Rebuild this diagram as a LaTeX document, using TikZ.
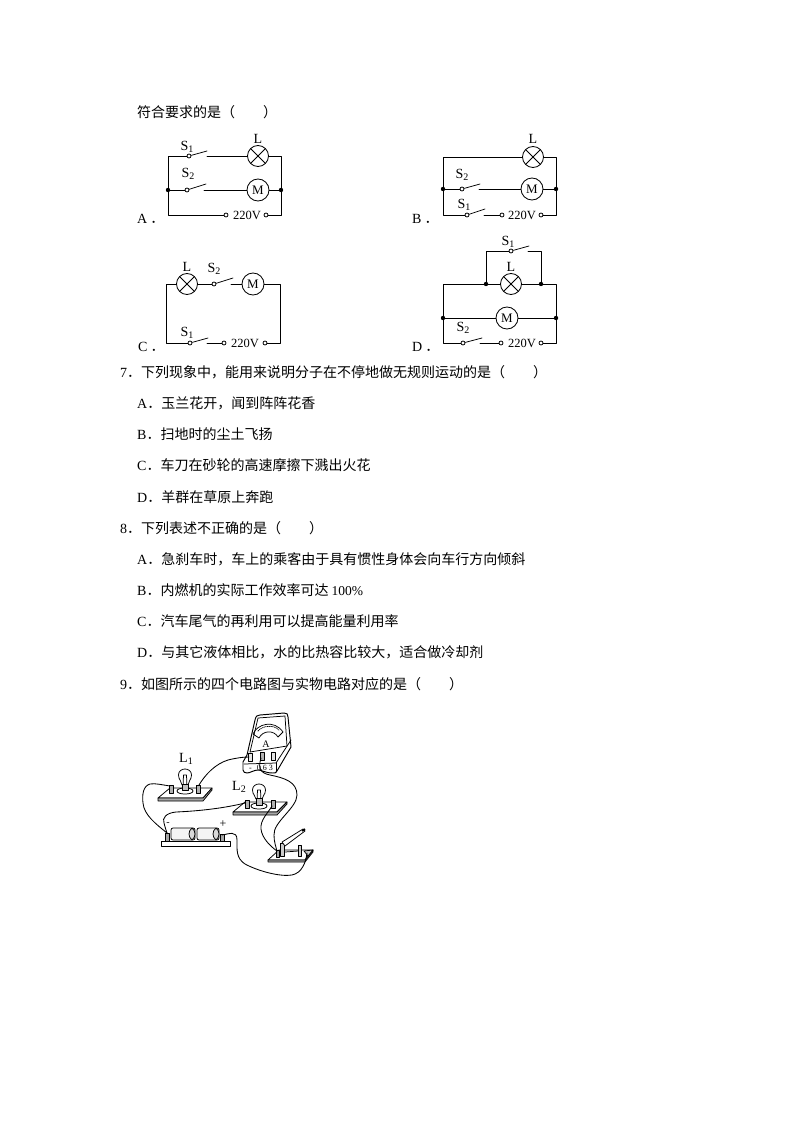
\documentclass[tikz,border=0pt]{standalone}
\usepackage{fontspec}
\setmainfont{Liberation Serif}
\newfontfamily\cjk{Noto Sans CJK SC}
\usetikzlibrary{calc}
\tikzset{
  wire/.style={line width=0.85pt,line cap=round,line join=round},
  thinw/.style={line width=0.75pt,line cap=round,line join=round},
  lamp/.style={circle,draw,line width=0.85pt,minimum size=21pt,inner sep=0pt,fill=white,
    path picture={\draw[line width=0.85pt] (path picture bounding box.north west)--(path picture bounding box.south east)
      (path picture bounding box.north east)--(path picture bounding box.south west);}},
  motor/.style={circle,draw,line width=0.85pt,minimum size=22pt,inner sep=0pt,fill=white,font=\fontsize{13}{13}\selectfont},
  term/.style={circle,draw,line width=0.75pt,minimum size=4pt,inner sep=0pt,fill=white},
  junc/.style={circle,fill=black,minimum size=4.4pt,inner sep=0pt},
  lab/.style={inner sep=0pt,font=\fontsize{14}{14}\selectfont},
  vlab/.style={inner sep=0pt,font=\fontsize{12.5}{12.5}\selectfont},
  txt/.style={anchor=west,inner sep=0pt,font=\fontsize{14}{14}\selectfont\cjk},
  opt/.style={anchor=west,inner sep=0pt,font=\fontsize{14}{14}\selectfont},
  solid part/.style={fill=white,draw,line width=0.75pt,line join=round},
}
\newcommand{\Sb}[2]{#1\raisebox{-0.3ex}{\fontsize{10}{10}\selectfont #2}}
\begin{document}
\begin{tikzpicture}[x=1pt,y=-1pt]
\fill[white] (0,0) rectangle (794,1123);
\useasboundingbox (0,0) rectangle (794,1123);

% text
\node[txt] (t0) at (137,112) {符合要求的是（　　）};
\node[txt] (t7) at (120,372) {{\rmfamily 7}．下列现象中，能用来说明分子在不停地做无规则运动的是（　　）};
\node[txt] (t7a) at (137,403) {{\rmfamily A}．玉兰花开，闻到阵阵花香};
\node[txt] (t7b) at (137,434) {{\rmfamily B}．扫地时的尘土飞扬};
\node[txt] (t7c) at (137,465) {{\rmfamily C}．车刀在砂轮的高速摩擦下溅出火花};
\node[txt] (t7d) at (137,497) {{\rmfamily D}．羊群在草原上奔跑};
\node[txt] (t8) at (120,528) {{\rmfamily 8}．下列表述不正确的是（　　）};
\node[txt] (t8a) at (137,559) {{\rmfamily A}．急刹车时，车上的乘客由于具有惯性身体会向车行方向倾斜};
\node[txt] (t8b) at (137,590) {{\rmfamily B}．内燃机的实际工作效率可达 {\rmfamily\fontsize{13.5}{13.5}\selectfont 100\%}};
\node[txt] (t8c) at (137,621) {{\rmfamily C}．汽车尾气的再利用可以提高能量利用率};
\node[txt] (t8d) at (137,652) {{\rmfamily D}．与其它液体相比，水的比热容比较大，适合做冷却剂};
\node[txt] (t9) at (120,684) {{\rmfamily 9}．如图所示的四个电路图与实物电路对应的是（　　）};

% ---------- A
\coordinate (atl) at (168,156); \coordinate (atr) at (281,156);
\coordinate (abl) at (168,215); \coordinate (abr) at (281,215);
\node[junc] (aj1) at (168,190) {}; \node[junc] (aj2) at (281,190) {};
\node[lamp] (al) at (258,156) {}; \node[motor] (am) at (258,190) {M};
\node[term] (as1) at (189,156) {}; \coordinate (as1e) at (207,151); \coordinate (as1r) at (207,156);
\node[term] (as2) at (187,190) {}; \coordinate (as2e) at (206,184); \coordinate (as2r) at (204,190);
\node[term] (at1) at (226,215) {}; \node[term] (at2) at (266,215) {};
\draw[wire] (as1)--(atl)--(abl)--(at1) (at2)--(abr)--(atr)--(al) (al)--(as1r)
  (aj1)--(as2) (as2r)--(am) (am)--(aj2);
\draw[thinw] (as1)--(as1e) (as2)--(as2e);
\node[lab] (alL) at (258,139) {L};
\node[lab] (alS1) at (187,147) {\Sb{S}{1}};
\node[lab] (alS2) at (188,174) {\Sb{S}{2}};
\node[vlab] (a220) at (247,215) {220V};
\node[opt] (aopt) at (137,219) {A\hspace{3pt}{\cjk ．}};

% ---------- B
\coordinate (btl) at (443,157); \coordinate (btr) at (556,157);
\coordinate (bbl) at (443,215); \coordinate (bbr) at (556,215);
\node[junc] (bj1) at (443,189) {}; \node[junc] (bj2) at (556,189) {};
\node[lamp] (bl) at (533,157) {}; \node[motor] (bm) at (532,189) {M};
\node[term] (bs2) at (462,189) {}; \coordinate (bs2e) at (480,184); \coordinate (bs2r) at (479,189);
\node[term] (bs1) at (467,215) {}; \coordinate (bs1e) at (485,209); \coordinate (bs1r) at (484,215);
\node[term] (bt1) at (502,215) {}; \node[term] (bt2) at (541,215) {};
\draw[wire] (bl)--(btl)--(bbl)--(bs1) (bs1r)--(bt1) (bt2)--(bbr)--(btr)--(bl)
  (bj1)--(bs2) (bs2r)--(bm) (bm)--(bj2);
\draw[thinw] (bs1)--(bs1e) (bs2)--(bs2e);
\node[lab] (blL) at (533,139) {L};
\node[lab] (blS2) at (462,175) {\Sb{S}{2}};
\node[lab] (blS1) at (464,205) {\Sb{S}{1}};
\node[vlab] (b220) at (522,215) {220V};
\node[opt] (bopt) at (412,219) {B\hspace{3pt}{\cjk ．}};

% ---------- C
\coordinate (ctl) at (166,284); \coordinate (ctr) at (280,284);
\coordinate (cbl) at (166,343); \coordinate (cbr) at (280,343);
\node[lamp] (cl) at (187,284) {}; \node[motor] (cm) at (253,284) {M};
\node[term] (cs2) at (214,284) {}; \coordinate (cs2e) at (233,278); \coordinate (cs2r) at (231,284);
\node[term] (cs1) at (190,343) {}; \coordinate (cs1e) at (208,338); \coordinate (cs1r) at (207,343);
\node[term] (ct1) at (224,343) {}; \node[term] (ct2) at (265,343) {};
\draw[wire] (cl)--(ctl)--(cbl)--(cs1) (cs1r)--(ct1) (ct2)--(cbr)--(ctr)--(cm)
  (cl)--(cs2) (cs2r)--(cm);
\draw[thinw] (cs1)--(cs1e) (cs2)--(cs2e);
\node[lab] (clL) at (187,267) {L};
\node[lab] (clS2) at (214,269) {\Sb{S}{2}};
\node[lab] (clS1) at (187,333) {\Sb{S}{1}};
\node[vlab] (c220) at (245,343) {220V};
\node[opt] (copt) at (138,347) {C\hspace{3pt}{\cjk ．}};

% ---------- D
\coordinate (dtl) at (443,284); \coordinate (dtr) at (556,284);
\coordinate (dbl) at (443,343); \coordinate (dbr) at (556,343);
\coordinate (dul) at (486,251); \coordinate (dur) at (541,251);
\node[junc] (dj1) at (486,284) {}; \node[junc] (dj2) at (541,284) {};
\node[junc] (dj3) at (443,318) {}; \node[junc] (dj4) at (556,318) {};
\node[lamp] (dl) at (511,284) {}; \node[motor] (dm) at (507,318) {M};
\node[term] (ds1) at (511,251) {}; \coordinate (ds1e) at (529,246); \coordinate (ds1r) at (528,251);
\node[term] (ds2) at (463,343) {}; \coordinate (ds2e) at (482,338); \coordinate (ds2r) at (480,343);
\node[term] (dt1) at (501,343) {}; \node[term] (dt2) at (541,343) {};
\draw[wire] (dl)--(dj1)--(dtl)--(dbl)--(ds2) (ds2r)--(dt1) (dt2)--(dbr)--(dtr)--(dj2)--(dl)
  (dj1)--(dul)--(ds1) (ds1r)--(dur)--(dj2)
  (dj3)--(dm) (dm)--(dj4);
\draw[thinw] (ds1)--(ds1e) (ds2)--(ds2e);
\node[lab] (dlL) at (511,267) {L};
\node[lab] (dlS1) at (508,242) {\Sb{S}{1}};
\node[lab] (dlS2) at (463,328) {\Sb{S}{2}};
\node[vlab] (d220) at (522,343) {220V};
\node[opt] (dopt) at (412,347) {D\hspace{3pt}{\cjk ．}};

% ---------- physical circuit
% L1 board and lamp
\draw[solid part] (170,788)--(212,788)--(203,798)--(158,798)--cycle;
\draw[solid part,fill=gray!70] (158,798)--(203,798)--(212,788)--(212,790)--(203,801)--(158,801)--cycle;
\draw[solid part] (177,791) .. controls (177,787) and (193,787) .. (193,791) .. controls (193,795) and (177,795) .. (177,791)--cycle;
\draw[thinw,fill=white] (182,785) .. controls (182,781) and (178.5,780) .. (178.5,775)
  .. controls (178.5,767) and (191.5,767) .. (191.5,775) .. controls (191.5,780) and (188,781) .. (188,785);
\draw[thinw] (183,787)--(183.5,775)--(186.5,775)--(187,787);
\draw[solid part,fill=gray!50] (182,784) rectangle (188,790);
\draw[solid part,fill=gray!60] (169,785) rectangle (173,793);
\draw[solid part,fill=gray!60] (196,785) rectangle (200,793);
\coordinate (l1a) at (170,786); \coordinate (l1b) at (199,785);
\node[lab] (l1lab) at (186,759) {\Sb{L}{1}};

% L2 board and lamp
\draw[solid part] (245,802)--(287,802)--(277,812)--(233,812)--cycle;
\draw[solid part,fill=gray!70] (233,812)--(277,812)--(287,802)--(287,804)--(277,815)--(233,815)--cycle;
\draw[solid part] (251,806) .. controls (251,802) and (267,802) .. (267,806) .. controls (267,810) and (251,810) .. (251,806)--cycle;
\draw[thinw,fill=white] (256,799) .. controls (256,796) and (252.5,795) .. (252.5,790)
  .. controls (252.5,782) and (265.5,782) .. (265.5,790) .. controls (265.5,795) and (262,796) .. (262,799);
\draw[thinw] (257,801)--(257.5,790)--(260.5,790)--(261,801);
\draw[solid part,fill=gray!50] (256,798) rectangle (262,805);
\draw[solid part,fill=gray!60] (245,800) rectangle (249,808);
\draw[solid part,fill=gray!60] (271,800) rectangle (275,808);
\coordinate (l2a) at (245,803); \coordinate (l2b) at (272,806);
\node[lab] (l2lab) at (239,787) {\Sb{L}{2}};

% ammeter
\draw[solid part,line width=0.95pt] (247,755)--(255,720) .. controls (256,716) and (257,715) .. (260,715)
  --(284,713) .. controls (287,713) and (288,714) .. (288,717)--(291,747)--(277,771)
  .. controls (276,773) and (275,773) .. (273,773) .. controls (265,773) and (262,770) .. (258,770)
  .. controls (254,770) and (250,773) .. (247,773) .. controls (245,773) and (243,772) .. (243,770)
  --(243,762)--cycle;
\draw[thinw] (258,718)--(285,716)--(287,746)--(250,752)--cycle;
\draw[thinw] (244,764)--(276,763)--(291,740);
\draw[thinw] (276,763)--(276,772);
\draw[thinw] (253,734) .. controls (257,724) and (274,719) .. (283,732)--(278,737)
  .. controls (274,730) and (263,730) .. (259,738)--cycle;
\draw[thinw,densely dotted] (258,731) .. controls (262,726) and (273,724) .. (279,730);
\node[inner sep=0pt,font=\fontsize{10}{10}\selectfont] (amA) at (266,744) {A};
\draw[solid part,fill=gray!20] (248,753) rectangle (252,761);
\draw[solid part,fill=gray!60] (260,752) rectangle (264,760);
\draw[solid part,fill=gray!20] (271,752) rectangle (275,760);
\coordinate (ama) at (249,757); \coordinate (amb) at (261,758);
\node[inner sep=0pt,font=\fontsize{8}{8}\selectfont] (amn) at (261,767.5) {-\hspace{5pt}0.6\hspace{2pt}3};

% battery
\draw[solid part] (161,841) rectangle (230,846);
\draw[solid part,fill=gray!70] (165,833) rectangle (169,841);
\draw[solid part,fill=gray!70] (220,834) rectangle (224,841);
\draw[solid part,rounded corners=2pt,fill=gray!8] (171,828) rectangle (195,840);
\draw[solid part,rounded corners=2pt,fill=gray!8] (197,828) rectangle (219,840);
\draw[thinw,fill=gray!30] (192,828) .. controls (188,831) and (188,837) .. (192,840) .. controls (196,837) and (196,831) .. (192,828);
\draw[thinw,fill=gray!30] (216,828) .. controls (212,831) and (212,837) .. (216,840) .. controls (220,837) and (220,831) .. (216,828);
\coordinate (bata) at (167,833); \coordinate (batb) at (222,835);
\node[inner sep=0pt,font=\fontsize{10}{10}\selectfont] (minus) at (168,824) {-};
\node[inner sep=0pt,font=\fontsize{12}{12}\selectfont] (plus) at (223,824) {+};

% switch
\draw[solid part] (279,850)--(313,850)--(305,860)--(268,860)--cycle;
\draw[solid part,fill=gray!70] (268,860)--(305,860)--(313,850)--(313,852)--(305,862)--(268,862)--cycle;
\draw[solid part,fill=gray!40] (280.5,843) rectangle (284,856);
\draw[solid part,fill=gray!40] (298,845) rectangle (301,856);
\draw[thinw] (285,852)--(298,851);
\draw[solid part,fill=gray!40] (304,851)--(313,850)--(308,856)--cycle;
\draw[solid part] (282,842)--(303,829)--(305,831)--(285,846)--cycle;
\draw[line width=1.6pt] (302,831)--(305,829);
\draw[solid part,fill=gray!70] (276,850) rectangle (279,857);
\coordinate (swa) at (277,851); \coordinate (swb) at (307,853);

% connecting wires
\draw[wire] (l1b) .. controls (205,775) and (215,764) .. (228,760) .. controls (236,758) and (243,757) .. (ama);
\draw[wire] (amb) .. controls (258,768) and (260,773) .. (270,775) .. controls (285,778) and (297,782) .. (297,795)
  .. controls (297,808) and (273,822) .. (274,835) .. controls (274,842) and (276,847) .. (swa);
\draw[wire] (l2b) .. controls (268,813) and (260,820) .. (261,829) .. controls (262,838) and (270,846) .. (swa);
\draw[wire] (l2a) .. controls (225,808) and (200,811) .. (176,812) .. controls (166,813) and (162,818) .. (164,823) .. controls (165,827) and (166,830) .. (bata);
\draw[wire] (l1a) .. controls (163,785) and (155,783) .. (150,784) .. controls (143,786) and (142,795) .. (143,803)
  .. controls (144,815) and (156,824) .. (bata);
\draw[wire] (batb) .. controls (229,834) and (237,830) .. (237,840) .. controls (237,850) and (236,858) .. (245,864)
  .. controls (258,871) and (280,877) .. (292,875) .. controls (302,873) and (306,862) .. (swb);
\end{tikzpicture}
\end{document}
